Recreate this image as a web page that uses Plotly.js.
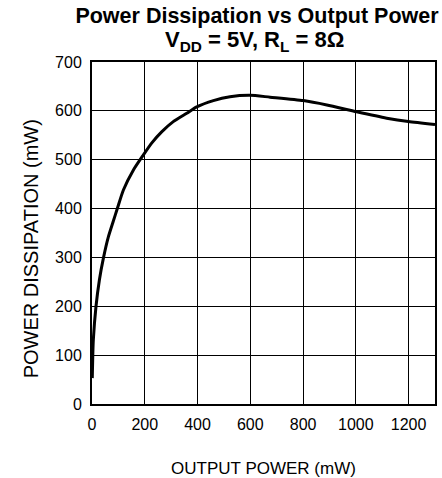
<!DOCTYPE html>
<html>
<head>
<meta charset="utf-8">
<script src="https://cdn.plot.ly/plotly-3.0.1.min.js"></script>
<style>html,body{margin:0;padding:0;background:#fff;}#chart{width:442px;height:478px;}</style>
</head>
<body>
<div id="chart"></div>
<script>
const outputPower = [1, 3, 5, 15, 28, 43, 62, 80, 96, 119, 157, 195, 226, 264, 308, 359, 397, 460, 523, 599, 675, 801, 890, 1003, 1117, 1199, 1300];
const powerDissipation = [53, 100, 131, 199, 254, 298, 342, 373, 400, 438, 479, 510, 534, 557, 578, 595, 608, 621, 629, 632, 628, 621, 612, 598, 585, 578, 572];
const xTicks = [0, 200, 400, 600, 800, 1000, 1200];
const yTicks = [0, 100, 200, 300, 400, 500, 600, 700];

const font = {family: 'Liberation Sans, Arial, sans-serif', color: '#000'};

Plotly.newPlot('chart', [{
  x: outputPower,
  y: powerDissipation,
  mode: 'lines',
  line: {color: '#000', width: 3, shape: 'spline', smoothing: 0.6},
  hoverinfo: 'none'
}], {
  width: 442, height: 478,
  margin: {l: 92, r: 7, t: 62, b: 74},
  paper_bgcolor: '#fff', plot_bgcolor: '#fff',
  showlegend: false,
  font: Object.assign({size: 16}, font),
  title: {
    text: '<b>Power Dissipation vs Output Power</b>',
    font: Object.assign({size: 21.5}, font),
    xref: 'paper', x: 0.481, xanchor: 'center',
    yref: 'paper', y: 1, yanchor: 'bottom',
    pad: {b: 39}
  },
  annotations: [{
    text: '<b>V<sub>DD</sub> = 5V, R<sub>L</sub> = 8Ω</b>',
    font: Object.assign({size: 22}, font),
    xref: 'paper', x: 0.474, xanchor: 'center',
    yref: 'paper', y: 1, yanchor: 'bottom', yshift: 5,
    showarrow: false
  }, {
    text: 'POWER DISSIPATION (mW)',
    font: Object.assign({size: 20}, font),
    textangle: -90,
    xref: 'paper', x: -0.178, xanchor: 'center',
    yref: 'paper', y: 0.455, yanchor: 'middle',
    showarrow: false
  }],
  xaxis: {
    range: [0, 1300], tickvals: xTicks, ticktext: xTicks.map(String),
    showgrid: true, gridcolor: '#000', gridwidth: 1,
    showline: true, linecolor: '#000', linewidth: 2, mirror: true,
    zeroline: false, ticks: '', ticklen: 0, ticklabelstandoff: 5,
    tickfont: Object.assign({size: 16}, font),
    title: {text: 'OUTPUT POWER (mW)', font: Object.assign({size: 17}, font), standoff: 30}
  },
  yaxis: {
    range: [0, 700], tickvals: yTicks, ticktext: yTicks.map(String),
    showgrid: true, gridcolor: '#000', gridwidth: 1,
    showline: true, linecolor: '#000', linewidth: 2, mirror: true,
    zeroline: false, ticks: '', ticklen: 0, ticklabelstandoff: 5,
    tickfont: Object.assign({size: 16}, font)
  }
}, {staticPlot: true, displayModeBar: false});
</script>
</body>
</html>
